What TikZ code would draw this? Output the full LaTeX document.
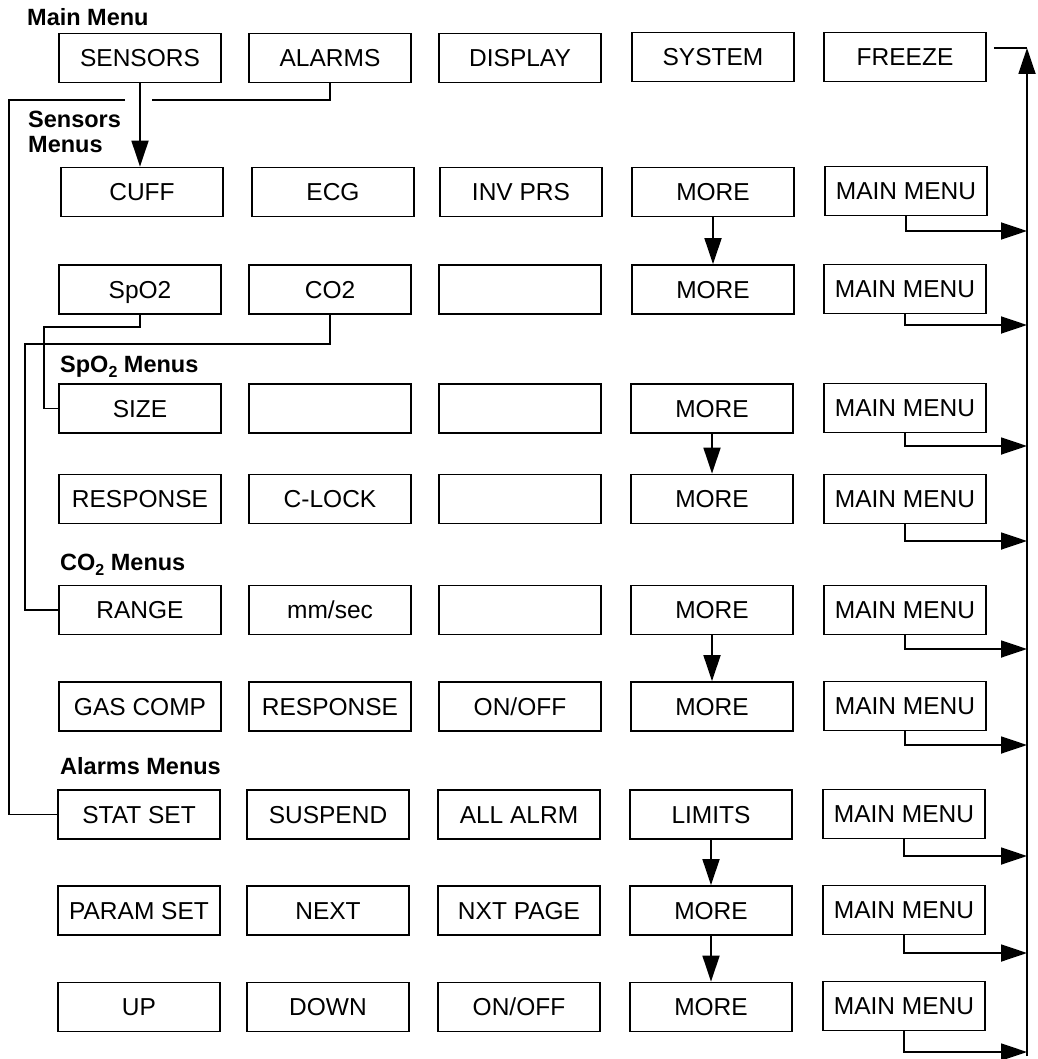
\documentclass[tikz,border=0pt]{standalone}
\usepackage{fontspec}
\setmainfont{Liberation Sans}
\usetikzlibrary{arrows.meta}
\newcommand\subtwo{\raisebox{-5pt}{\fontsize{16}{16}\selectfont 2}}
\begin{document}
\begin{tikzpicture}[x=1pt,y=-1pt,
  box/.style={draw,line width=1.8pt,minimum width=162pt,minimum height=49pt,inner sep=0pt,
    text height=17.5pt,text depth=0pt,font=\fontsize{24.5}{24.5}\selectfont},
  lbl/.style={anchor=base west,inner sep=0pt,font=\fontsize{23.5}{25}\selectfont\bfseries},
  conn/.style={line width=1.8pt},
  arr/.style={conn,-{Triangle[length=26pt,width=17pt]}},
]
\useasboundingbox (0,0) rectangle (1037,1059);

% labels
\node[lbl] (lmain) at (27,26) {Main Menu};
\node[lbl] (lsens1) at (28,128) {Sensors};
\node[lbl] (lsens2) at (28,153) {Menus};
\node[lbl] (lspo) at (60,372) {SpO\subtwo\ Menus};
\node[lbl] (lco) at (60,570) {CO\subtwo\ Menus};
\node[lbl] (lalm) at (60,774) {Alarms Menus};

% row 0
\node[box] (sensors) at (140,58) {SENSORS};
\node[box] (alarms)  at (330,58) {ALARMS};
\node[box] (display) at (520,58) {DISPLAY};
\node[box] (system)  at (713,57) {SYSTEM};
\node[box] (freeze)  at (905,57) {FREEZE};
% row 1
\node[box] (cuff)  at (142,192) {CUFF};
\node[box] (ecg)   at (333,192) {ECG};
\node[box] (invprs) at (521,192) {INV PRS};
\node[box] (more1) at (713,192) {MORE};
\node[box] (mm1)   at (906,191) {MAIN MENU};
% row 2
\node[box] (spo2) at (140,289.5) {SpO2};
\node[box] (co2)  at (330,289.5) {CO2};
\node[box] (e21)  at (520,289.5) {};
\node[box] (more2) at (713,289.5) {MORE};
\node[box] (mm2)  at (905,289) {MAIN MENU};
% row 3
\node[box] (size) at (140,408.5) {SIZE};
\node[box] (e31)  at (330,408.5) {};
\node[box] (e32)  at (520,408.5) {};
\node[box] (more3) at (712,408.5) {MORE};
\node[box] (mm3)  at (905,408) {MAIN MENU};
% row 4
\node[box] (resp1) at (140,499) {RESPONSE};
\node[box] (clock) at (330,499) {C-LOCK};
\node[box] (e41)   at (520,499) {};
\node[box] (more4) at (712,499) {MORE};
\node[box] (mm4)   at (905,499) {MAIN MENU};
% row 5
\node[box] (range) at (140,610) {RANGE};
\node[box] (mmsec) at (330,610) {mm/sec};
\node[box] (e51)   at (520,610) {};
\node[box] (more5) at (712,610) {MORE};
\node[box] (mm5)   at (905,610) {MAIN MENU};
% row 6
\node[box] (gascomp) at (140,706.5) {GAS COMP};
\node[box] (resp2)   at (330,706.5) {RESPONSE};
\node[box] (onoff1)  at (520,706.5) {ON/OFF};
\node[box] (more6)   at (712,706.5) {MORE};
\node[box] (mm6)     at (905,706) {MAIN MENU};
% row 7
\node[box] (statset) at (139,814.5) {STAT SET};
\node[box] (suspend) at (328,814.5) {SUSPEND};
\node[box] (allalrm) at (519,814.5) {ALL ALRM};
\node[box] (limits)  at (711,814.5) {LIMITS};
\node[box] (mm7)     at (904,814) {MAIN MENU};
% row 8
\node[box] (paramset) at (139,910.5) {PARAM SET};
\node[box] (next)     at (328,910.5) {NEXT};
\node[box] (nxtpage)  at (519,910.5) {NXT PAGE};
\node[box] (more8)    at (711,910.5) {MORE};
\node[box] (mm8)      at (904,910) {MAIN MENU};
% row 9
\node[box] (up)     at (139,1007) {UP};
\node[box] (down)   at (328,1007) {DOWN};
\node[box] (onoff2) at (519,1007) {ON/OFF};
\node[box] (more9)  at (711,1007) {MORE};
\node[box] (mm9)    at (904,1006) {MAIN MENU};

% sensors -> cuff
\draw[arr] (sensors.south) -- (sensors.south |- cuff.north);
% alarms -> stat set (with gap at crossing)
\coordinate (ab1) at (152,100);
\coordinate (ab2) at (125,100);
\coordinate (ab3) at (9,100);
\draw[conn] (alarms.south) |- (ab1);
\draw[conn] (ab2) -- (ab3) |- (statset.west);
% spo2 -> size
\coordinate (sp1) at (44,327);
\draw[conn] (spo2.south) |- (sp1) |- (size.west);
% co2 -> range
\coordinate (c1) at (25,344);
\draw[conn] (co2.south) |- (c1) |- (range.west);

% more chains
\draw[arr] (more1.south) -- (more2.north);
\draw[arr] (more3.south) -- (more4.north);
\draw[arr] (more5.south) -- (more6.north);
\draw[arr] (limits.south) -- (more8.north);
\draw[arr] (more8.south) -- (more9.north);

% return rail
\coordinate (railtop) at (1027,48);
\coordinate (railbot) at (1027,1056);
\draw[arr] (railbot) -- (railtop);
\draw[conn] ([xshift=7pt]freeze.east |- railtop) -- (railtop);
\coordinate (r1) at (1027,231);
\coordinate (r2) at (1027,325);
\coordinate (r3) at (1027,446);
\coordinate (r4) at (1027,541);
\coordinate (r5) at (1027,649);
\coordinate (r6) at (1027,745);
\coordinate (r7) at (1027,856);
\coordinate (r8) at (1027,953);
\coordinate (r9) at (1027,1052);
\draw[arr] (mm1.south) |- (r1);
\draw[arr] (mm2.south) |- (r2);
\draw[arr] (mm3.south) |- (r3);
\draw[arr] (mm4.south) |- (r4);
\draw[arr] (mm5.south) |- (r5);
\draw[arr] (mm6.south) |- (r6);
\draw[arr] (mm7.south) |- (r7);
\draw[arr] (mm8.south) |- (r8);
\draw[arr] (mm9.south) |- (r9);
\end{tikzpicture}
\end{document}
